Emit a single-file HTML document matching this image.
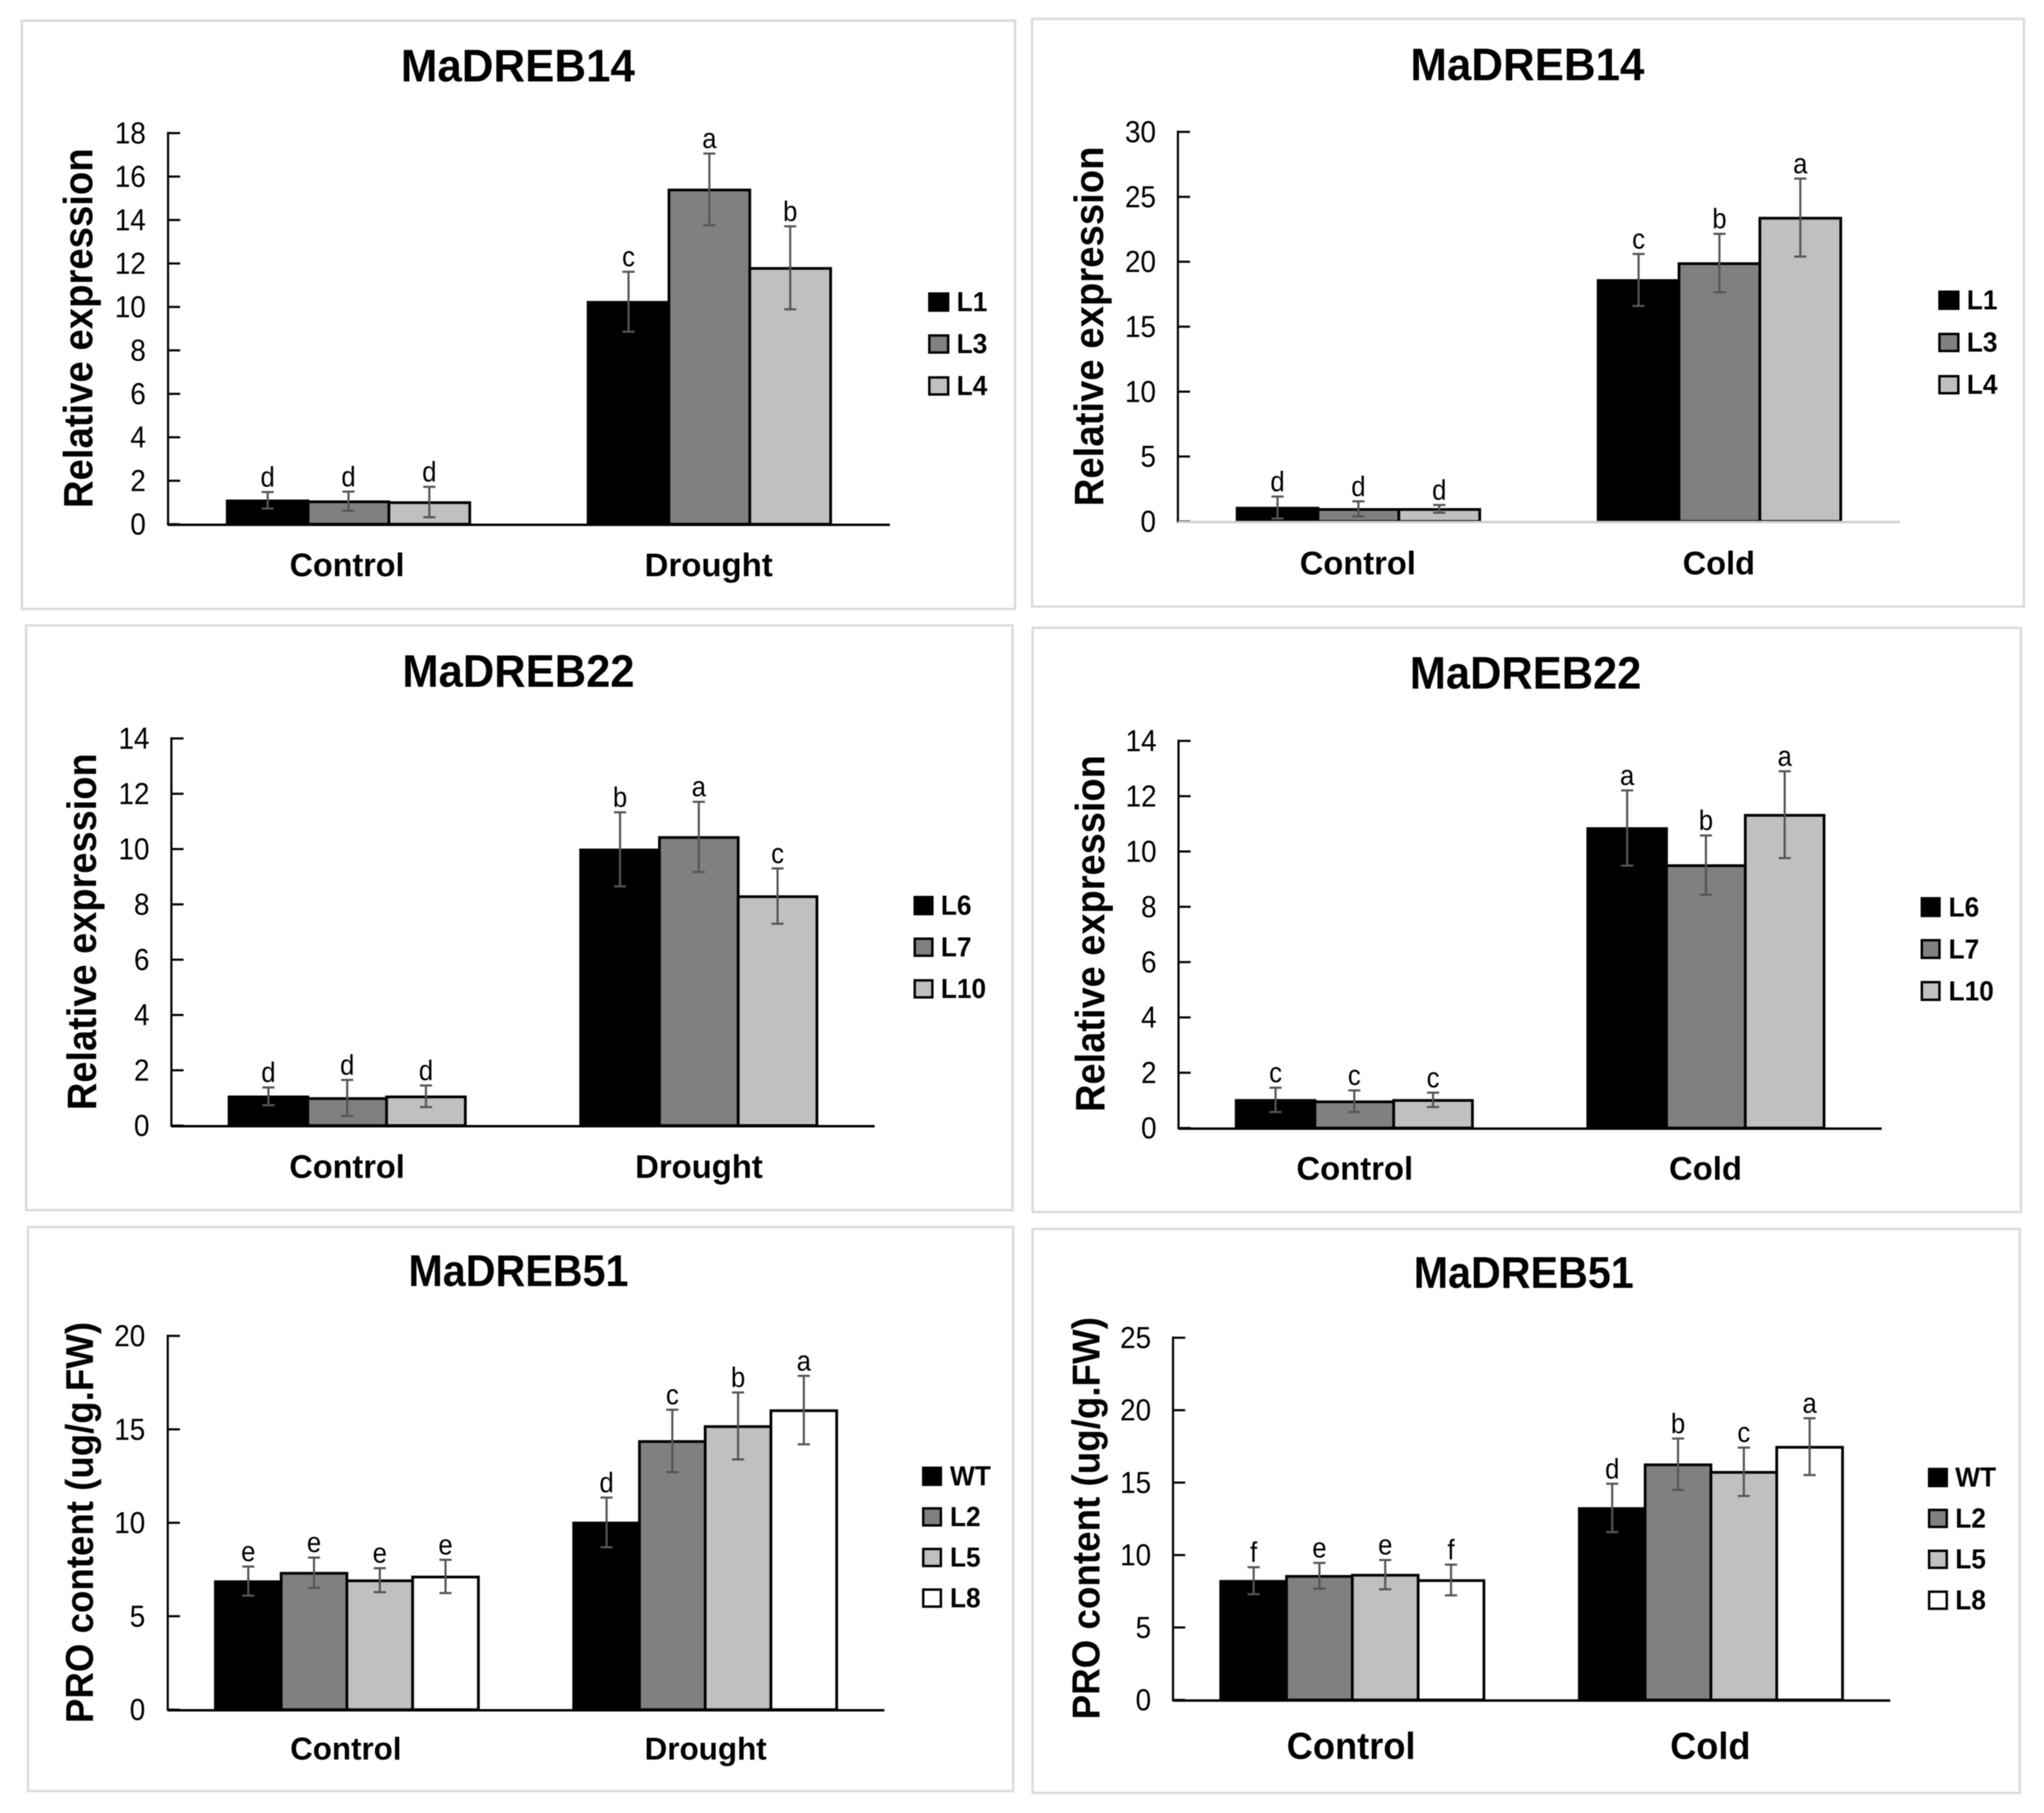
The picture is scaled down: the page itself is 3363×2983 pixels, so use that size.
<!DOCTYPE html>
<html lang="en">
<head>
<meta charset="utf-8">
<title>MaDREB expression and proline content charts</title>
<style>
html,body{margin:0;padding:0;background:#fff;width:3363px;height:2983px;overflow:hidden}
svg{display:block;filter:blur(0.7px)}
text{font-family:"Liberation Sans",Arial,sans-serif;fill:#000}
</style>
</head>
<body>
<svg id="figure" xmlns="http://www.w3.org/2000/svg" width="3363" height="2983" viewBox="0 0 3363 2983"></svg>
<script>
/* ---------- chart data ---------- */
const droughtCategories = ['Control', 'Drought'];
const coldCategories = ['Control', 'Cold'];

const seriesA = ['L1', 'L3', 'L4'];
const seriesB = ['L6', 'L7', 'L10'];
const seriesC = ['WT', 'L2', 'L5', 'L8'];

const yLabelExpression = 'Relative expression';
const yLabelProline = 'PRO content (ug/g.FW)';

const title14 = 'MaDREB14';
const title22 = 'MaDREB22';
const title51 = 'MaDREB51';

const ticks18 = [0, 2, 4, 6, 8, 10, 12, 14, 16, 18];
const ticks30 = [0, 5, 10, 15, 20, 25, 30];
const ticks14 = [0, 2, 4, 6, 8, 10, 12, 14];
const ticks20 = [0, 5, 10, 15, 20];
const ticks25 = [0, 5, 10, 15, 20, 25];

const p1Values = [[1.10, 1.06, 1.02], [10.24, 15.41, 11.80]];
const p1Errors = [[0.38, 0.44, 0.70], [1.38, 1.65, 1.91]];
const p1Letters = [['d', 'd', 'd'], ['c', 'a', 'b']];

const p2Values = [[1.07, 0.97, 0.97], [18.6, 19.9, 23.4]];
const p2Errors = [[0.85, 0.58, 0.30], [2.0, 2.25, 3.0]];
const p2Letters = [['d', 'd', 'd'], ['c', 'b', 'a']];

const p3Values = [[1.06, 1.00, 1.06], [9.99, 10.44, 8.30]];
const p3Errors = [[0.32, 0.65, 0.39], [1.34, 1.27, 1.00]];
const p3Letters = [['d', 'd', 'd'], ['b', 'a', 'c']];

const p4Values = [[1.02, 0.97, 1.02], [10.85, 9.51, 11.33]];
const p4Errors = [[0.44, 0.39, 0.26], [1.36, 1.07, 1.57]];
const p4Letters = [['c', 'c', 'c'], ['a', 'b', 'a']];

const p5Values = [[6.88, 7.33, 6.93, 7.13], [10.02, 14.38, 15.18, 16.03]];
const p5Errors = [[0.78, 0.81, 0.64, 0.89], [1.33, 1.67, 1.79, 1.83]];
const p5Letters = [['e', 'e', 'e', 'e'], ['d', 'c', 'b', 'a']];

const p6Values = [[8.23, 8.57, 8.65, 8.28], [13.25, 16.27, 15.75, 17.48]];
const p6Errors = [[0.93, 0.89, 1.01, 1.06], [1.67, 1.77, 1.67, 1.96]];
const p6Letters = [['f', 'e', 'e', 'f'], ['d', 'b', 'c', 'a']];

const seriesFills = ['#000000', '#808080', '#c0c0c0', '#ffffff'];

/* ---------- panel definitions: data references + layout ---------- */
const panels = [
  { id: 'drought-14', title: title14, yLabel: yLabelExpression, cats: droughtCategories, series: seriesA, ticks: ticks18, values: p1Values, errors: p1Errors, letters: p1Letters,
    frame: [36, 34, 1670, 1002], left: 276.5, right: 1464, base: 862.5, top: 219, barFrac: 0.224, axisColor: '#000',
    titleX: 852, titleW: 385, titleY: 134, titleSize: 75,
    yTitleX: 152, yTitleY: 540, yTitleLen: 592, yTitleSize: 68,
    tickX: 240, catY: 948, catSize: 54, catX: [571, 1166], catW: [189, 211],
    swatchX: 1527, swatchW: 35, swatchH: 32, legendTop: 481, legendStep: 69, labelX: 1574 },
  { id: 'cold-14', title: title14, yLabel: yLabelExpression, cats: coldCategories, series: seriesA, ticks: ticks30, values: p2Values, errors: p2Errors, letters: p2Letters,
    frame: [1698, 31, 3330, 998], left: 1938, right: 3126, base: 858, top: 217, barFrac: 0.224, axisColor: '#cfcfcf',
    titleX: 2513, titleW: 385, titleY: 132, titleSize: 75,
    yTitleX: 1815, yTitleY: 537, yTitleLen: 592, yTitleSize: 68,
    tickX: 1902, catY: 945, catSize: 54, catX: [2234, 2828], catW: [191, 119],
    swatchX: 3189, swatchW: 35, swatchH: 32, legendTop: 478, legendStep: 69.5, labelX: 3236 },
  { id: 'drought-22', title: title22, yLabel: yLabelExpression, cats: droughtCategories, series: seriesB, ticks: ticks14, values: p3Values, errors: p3Errors, letters: p3Letters,
    frame: [43, 1029, 1666, 1991], left: 282, right: 1439, base: 1852, top: 1215, barFrac: 0.224, axisColor: '#000',
    titleX: 853, titleW: 382, titleY: 1130, titleSize: 75,
    yTitleX: 158, yTitleY: 1533, yTitleLen: 587, yTitleSize: 68,
    tickX: 246, catY: 1938, catSize: 54, catX: [571, 1150], catW: [190, 210],
    swatchX: 1503, swatchW: 33, swatchH: 32, legendTop: 1474, legendStep: 68.5, labelX: 1548 },
  { id: 'cold-22', title: title22, yLabel: yLabelExpression, cats: coldCategories, series: seriesB, ticks: ticks14, values: p4Values, errors: p4Errors, letters: p4Letters,
    frame: [1699, 1033, 3325, 1994], left: 1939, right: 3096, base: 1856, top: 1219, barFrac: 0.224, axisColor: '#000',
    titleX: 2510, titleW: 381, titleY: 1133, titleSize: 75,
    yTitleX: 1817, yTitleY: 1536, yTitleLen: 587, yTitleSize: 68,
    tickX: 1903, catY: 1941, catSize: 54, catX: [2229, 2806], catW: [192, 120],
    swatchX: 3160, swatchW: 33, swatchH: 33, legendTop: 1476, legendStep: 69, labelX: 3206 },
  { id: 'drought-51', title: title51, yLabel: yLabelProline, cats: droughtCategories, series: seriesC, ticks: ticks20, values: p5Values, errors: p5Errors, letters: p5Letters,
    frame: [46, 2019, 1667, 2947], left: 276, right: 1455, base: 2813, top: 2198, barFrac: 0.1835, axisColor: '#000',
    titleX: 853, titleW: 362, titleY: 2116, titleSize: 73,
    yTitleX: 153, yTitleY: 2505, yTitleLen: 660, yTitleSize: 64,
    tickX: 239, catY: 2895, catSize: 52, catX: [569, 1161], catW: [183, 201],
    swatchX: 1517, swatchW: 33, swatchH: 32, legendTop: 2413, legendStep: 66.8, labelX: 1563 },
  { id: 'cold-51', title: title51, yLabel: yLabelProline, cats: coldCategories, series: seriesC, ticks: ticks25, values: p6Values, errors: p6Errors, letters: p6Letters,
    frame: [1699, 2022, 3323, 2950], left: 1930, right: 3110, base: 2797, top: 2201, barFrac: 0.1835, axisColor: '#000',
    titleX: 2507, titleW: 362, titleY: 2119, titleSize: 73,
    yTitleX: 1809, yTitleY: 2498, yTitleLen: 662, yTitleSize: 64,
    tickX: 1894, catY: 2894, catSize: 62, catX: [2223, 2814], catW: [212, 132],
    swatchX: 3172, swatchW: 33, swatchH: 32, legendTop: 2415, legendStep: 67.3, labelX: 3217 }
];

/* ---------- drawing ---------- */
const NS = 'http://www.w3.org/2000/svg';
const svg = document.getElementById('figure');
const BAR_STROKE = 4.5;

function make(parent, tag, attrs, text) {
  const el = document.createElementNS(NS, tag);
  for (const k in attrs) el.setAttribute(k, attrs[k]);
  if (text !== undefined) el.textContent = text;
  parent.appendChild(el);
  return el;
}

function drawPanel(p) {
  const g = make(svg, 'g', {});
  
  

  const yMax = p.ticks[p.ticks.length - 1];
  const yScale = v => p.base - (v / yMax) * (p.base - p.top);
  const bandWidth = (p.right - p.left) / p.cats.length;
  const barWidth = bandWidth * p.barFrac;
  const xCenter = i => p.left + bandWidth * (i + 0.5);
  const barX = (i, s) => xCenter(i) - barWidth * p.series.length / 2 + barWidth * s;

  const frame = make(g, 'rect', { x: p.frame[0], y: p.frame[1], width: p.frame[2] - p.frame[0], height: p.frame[3] - p.frame[1], fill: '#fff', stroke: '#dcdcdc', 'stroke-width': 4 });
  
  

  const title = make(g, 'text', { x: p.titleX, y: p.titleY, 'text-anchor': 'middle', 'font-size': p.titleSize, 'font-weight': 'bold', textLength: p.titleW, lengthAdjust: 'spacingAndGlyphs' }, p.title);
  
  

  const yTitle = make(g, 'text', { transform: 'translate(' + p.yTitleX + ',' + p.yTitleY + ') rotate(-90)', 'text-anchor': 'middle', 'font-size': p.yTitleSize, 'font-weight': 'bold', textLength: p.yTitleLen, lengthAdjust: 'spacingAndGlyphs' }, p.yLabel);
  
  

  p.ticks.forEach(t => {
    const tick = make(g, 'line', { x1: p.left, x2: p.left + 20, y1: yScale(t), y2: yScale(t), stroke: '#000', 'stroke-width': 3.5 });
    
    
    const label = make(g, 'text', { transform: 'translate(' + p.tickX + ',' + (yScale(t) + 17) + ') scale(0.92,1)', 'text-anchor': 'end', 'font-size': 50 }, String(t));
    
    
  });

  p.cats.forEach((cat, i) => {
    p.series.forEach((name, s) => {
      const topEdge = yScale(p.values[i][s]) + 1;
      const bar = make(g, 'rect', { x: barX(i, s), y: topEdge, width: barWidth, height: p.base - topEdge, fill: seriesFills[s], stroke: '#000', 'stroke-width': BAR_STROKE });
      
      
    });
  });

  const yAxis = make(g, 'line', { x1: p.left, x2: p.left, y1: p.top - 2, y2: p.base + 2, stroke: '#000', 'stroke-width': 3.5 });
  
  
  const xAxis = make(g, 'line', { x1: p.left, x2: p.right, y1: p.base + 1, y2: p.base + 1, stroke: p.axisColor, 'stroke-width': 4 });
  
  

  p.cats.forEach((cat, i) => {
    p.series.forEach((name, s) => {
      const cx = barX(i, s) + barWidth / 2;
      const v = p.values[i][s];
      const e = p.errors[i][s];
      const hi = yScale(v + e);
      const lo = yScale(Math.max(0, v - e));
      const d = 'M' + cx + ' ' + hi + 'V' + lo + 'M' + (cx - 10) + ' ' + hi + 'H' + (cx + 10) + 'M' + (cx - 10) + ' ' + lo + 'H' + (cx + 10);
      const err = make(g, 'path', { d: d, fill: 'none', stroke: '#555555', 'stroke-width': 3.5 });
      
      
      const letter = make(g, 'text', { transform: 'translate(' + cx + ',' + (hi - 9) + ') scale(0.92,1)', 'text-anchor': 'middle', 'font-size': 46 }, p.letters[i][s]);
      
      
    });
    const catLabel = make(g, 'text', { x: p.catX[i], y: p.catY, 'text-anchor': 'middle', 'font-size': p.catSize, 'font-weight': 'bold', textLength: p.catW[i], lengthAdjust: 'spacingAndGlyphs' }, cat);
    
    
  });

  p.series.forEach((name, s) => {
    const top = p.legendTop + p.legendStep * s;
    const swatch = make(g, 'rect', { x: p.swatchX + 2, y: top + 2, width: p.swatchW - 4, height: p.swatchH - 4, fill: seriesFills[s], stroke: '#000', 'stroke-width': 4 });
    
    
    const label = make(g, 'text', { transform: 'translate(' + p.labelX + ',' + (top + p.swatchH - 1) + ') scale(0.96,1)', 'font-size': 45, 'font-weight': 'bold' }, name);
    
    
  });
}

panels.forEach(drawPanel);
</script>
</body>
</html>
